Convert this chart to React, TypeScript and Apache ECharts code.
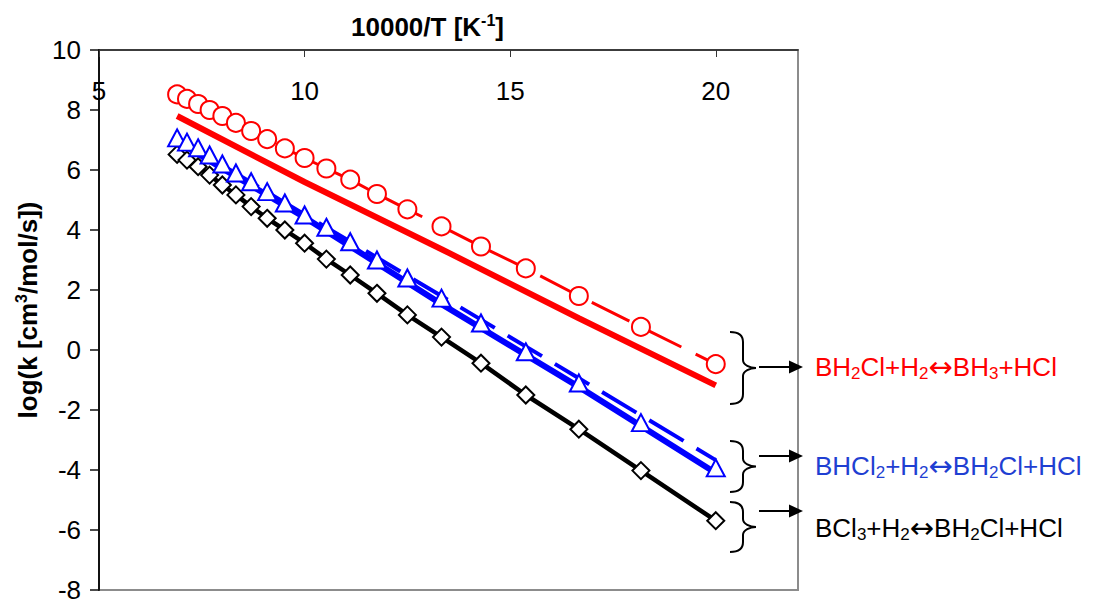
import React, { useEffect, useRef } from "react";
import * as echarts from "echarts";

const FONT = '"Liberation Sans", Arial, Helvetica, sans-serif';
const ARROW_FONT = '"DejaVu Sans", "Liberation Sans", sans-serif';

// 10000/T values of the data points
const invT = [6.9, 7.14, 7.41, 7.69, 8.0, 8.33, 8.7, 9.09, 9.52, 10.0, 10.53, 11.11, 11.76, 12.5, 13.33, 14.29, 15.38, 16.67, 18.18, 20.0];
// log(k) of the marked series
const redPoints = [8.52, 8.37, 8.2, 8.0, 7.8, 7.57, 7.3, 7.03, 6.72, 6.4, 6.05, 5.68, 5.2, 4.69, 4.12, 3.45, 2.72, 1.8, 0.77, -0.47];
const bluePoints = [7.07, 6.93, 6.74, 6.5, 6.2, 5.9, 5.61, 5.28, 4.9, 4.5, 4.09, 3.61, 3.0, 2.4, 1.73, 0.9, -0.06, -1.1, -2.42, -3.93];
const blackPoints = [6.52, 6.33, 6.11, 5.83, 5.5, 5.17, 4.78, 4.39, 4.0, 3.56, 3.03, 2.5, 1.89, 1.17, 0.43, -0.44, -1.5, -2.64, -4.02, -5.69];
// fitted lines
const fitX = [6.9, 10.0, 13.33, 16.67, 20.0];
const redFit = [7.8, 5.6, 3.36, 1.06, -1.18];
const blueFit = [6.95, 4.42, 1.53, -1.23, -4.1];
const blueFitDashed = [7.06, 4.52, 1.8, -0.94, -3.67];

const xTicks = { min: 5, max: 22, interval: 5 };
const yTicks = { min: -8, max: 10, interval: 2 };

const pairs = (xs: number[], ys: number[]) => xs.map((x, i) => [x, ys[i]]);

function braceD(left: number, top: number, bottom: number, spine: number, tip: number) {
  const mid = (top + bottom) / 2;
  return `M${left},${top} C${spine - 4},${top} ${spine},${top + 3} ${spine},${top + 10} L${spine},${mid - 8} C${spine},${mid - 3} ${tip - 6},${mid} ${tip},${mid} C${tip - 6},${mid} ${spine},${mid + 3} ${spine},${mid + 8} L${spine},${bottom - 10} C${spine},${bottom - 3} ${spine - 4},${bottom} ${left},${bottom}`;
}

function richFor(color: string) {
  return {
    n: { fontSize: 26, fontFamily: FONT, fill: color, lineHeight: 30 },
    s: { fontSize: 17, fontFamily: FONT, fill: color, lineHeight: 17, verticalAlign: "bottom" },
    a: { fontSize: 29, fontFamily: ARROW_FONT, fill: color, lineHeight: 30 },
  };
}

export default function App() {
  const ref = useRef<HTMLDivElement>(null);
  useEffect(() => {
    if (!ref.current) return;
    echarts.graphic.registerShape("braceRed", echarts.graphic.extendPath(braceD(730, 332, 404, 743, 756), {}));
    echarts.graphic.registerShape("braceBlue", echarts.graphic.extendPath(braceD(730, 441, 492, 743, 756), {}));
    echarts.graphic.registerShape("braceBlack", echarts.graphic.extendPath(braceD(730, 502, 552, 743, 756), {}));
    const chart = echarts.init(ref.current, null, { renderer: "svg" });

    const arrow = (y: number) => [
      { type: "line", shape: { x1: 759, y1: y, x2: 792, y2: y }, style: { stroke: "#000", lineWidth: 2 } },
      { type: "polygon", shape: { points: [[789, y - 6.5], [803, y], [789, y + 6.5]] }, style: { fill: "#000" } },
    ];
    const braceStyle = { stroke: "#000", lineWidth: 2, fill: "none" };

    chart.setOption({
      animation: false,
      backgroundColor: "#fff",
      grid: {
        left: 99,
        top: 50,
        width: 699,
        height: 540,
        show: true,
        borderColor: "#8c8c8c",
        borderWidth: 2,
        backgroundColor: "#fff",
      },
      xAxis: {
        type: "value",
        position: "top",
        min: xTicks.min,
        max: xTicks.max,
        interval: xTicks.interval,
        name: "{t|10000/T [K}{sup|-1}{t|]}",
        nameLocation: "middle",
        nameGap: 8,
        nameTextStyle: {
          padding: [0, 42, 0, 0],
          rich: {
            t: { fontSize: 26, fontWeight: "bold", fontFamily: FONT, color: "#000", lineHeight: 30 },
            sup: { fontSize: 16, fontWeight: "bold", fontFamily: FONT, color: "#000", lineHeight: 16, verticalAlign: "top" },
          },
        },
        axisLine: { show: true, onZero: false, lineStyle: { color: "#222", width: 1.5 } },
        axisTick: { show: true, inside: true, length: 7, lineStyle: { color: "#333", width: 1 } },
        axisLabel: { inside: true, margin: 28, fontSize: 26, fontFamily: FONT, color: "#000", showMaxLabel: false },
        splitLine: { show: false },
      },
      yAxis: {
        type: "value",
        min: yTicks.min,
        max: yTicks.max,
        interval: yTicks.interval,
        name: "{t|log(k [cm}{sup|3}{t|/mol/s])}",
        nameLocation: "middle",
        nameGap: 46,
        nameTextStyle: {
          padding: [0, 0, 0, 20],
          rich: {
            t: { fontSize: 26, fontWeight: "bold", fontFamily: FONT, color: "#000", lineHeight: 30 },
            sup: { fontSize: 16, fontWeight: "bold", fontFamily: FONT, color: "#000", lineHeight: 16, verticalAlign: "top" },
          },
        },
        axisLine: { show: true, onZero: false, lineStyle: { color: "#111", width: 2 } },
        axisTick: { show: true, inside: false, length: 9, lineStyle: { color: "#111", width: 1.5 } },
        axisLabel: { margin: 18, fontSize: 26, lineHeight: 20, fontFamily: FONT, color: "#000" },
        splitLine: { show: false },
      },
      series: [
        {
          name: "BCl3+H2↔BH2Cl+HCl",
          type: "line",
          data: pairs(invT, blackPoints),
          symbol: "diamond",
          symbolSize: 17,
          lineStyle: { color: "#000", width: 4.5 },
          itemStyle: { color: "#fff", borderColor: "#000", borderWidth: 2 },
          z: 3,
        },
        {
          name: "BHCl2 fit",
          type: "line",
          data: pairs(fitX, blueFit),
          symbol: "none",
          lineStyle: { color: "#0000ff", width: 6 },
          z: 4,
        },
        {
          name: "BHCl2 fit dashed",
          type: "line",
          data: pairs(fitX, blueFitDashed),
          symbol: "none",
          lineStyle: { color: "#0000ff", width: 4, type: [40, 15] },
          z: 4,
        },
        {
          name: "BHCl2+H2↔BH2Cl+HCl",
          type: "scatter",
          data: pairs(invT, bluePoints),
          symbol: "triangle",
          symbolSize: [18, 17],
          itemStyle: { color: "#fff", borderColor: "#0000ff", borderWidth: 2, opacity: 1 },
          z: 5,
        },
        {
          name: "BH2Cl fit",
          type: "line",
          data: pairs(fitX, redFit),
          symbol: "none",
          lineStyle: { color: "#ff0000", width: 6 },
          z: 6,
        },
        {
          name: "BH2Cl+H2↔BH3+HCl",
          type: "line",
          data: pairs(invT, redPoints),
          symbol: "circle",
          symbolSize: 18,
          lineStyle: { color: "#ff0000", width: 3, type: [42, 16] },
          itemStyle: { color: "#fff", borderColor: "#ff0000", borderWidth: 2 },
          z: 7,
        },
      ],
      graphic: [
        { type: "braceRed", x: 0, y: 0, shape: {}, style: braceStyle },
        { type: "braceBlue", x: 0, y: 0, shape: {}, style: braceStyle },
        { type: "braceBlack", x: 0, y: 0, shape: {}, style: braceStyle },
        ...arrow(367),
        ...arrow(456),
        ...arrow(511),
        {
          type: "text",
          x: 815,
          y: 367,
          style: {
            text: "{n|BH}{s|2}{n|Cl+H}{s|2}{a|↔}{n|BH}{s|3}{n|+HCl}",
            rich: richFor("#ff0000"),
            fill: "#ff0000",
            fontSize: 26,
            fontFamily: FONT,
            align: "left",
            verticalAlign: "middle",
          },
        },
        {
          type: "text",
          x: 815,
          y: 466,
          style: {
            text: "{n|BHCl}{s|2}{n|+H}{s|2}{a|↔}{n|BH}{s|2}{n|Cl+HCl}",
            rich: richFor("#1f3fd2"),
            fill: "#1f3fd2",
            fontSize: 26,
            fontFamily: FONT,
            align: "left",
            verticalAlign: "middle",
          },
        },
        {
          type: "text",
          x: 815,
          y: 528,
          style: {
            text: "{n|BCl}{s|3}{n|+H}{s|2}{a|↔}{n|BH}{s|2}{n|Cl+HCl}",
            rich: richFor("#000000"),
            fill: "#000",
            fontSize: 26,
            fontFamily: FONT,
            align: "left",
            verticalAlign: "middle",
          },
        },
      ],
    });
    return () => chart.dispose();
  }, []);
  return <div ref={ref} style={{ position: "absolute", left: 0, top: 0, width: 1096, height: 603 }} />;
}
